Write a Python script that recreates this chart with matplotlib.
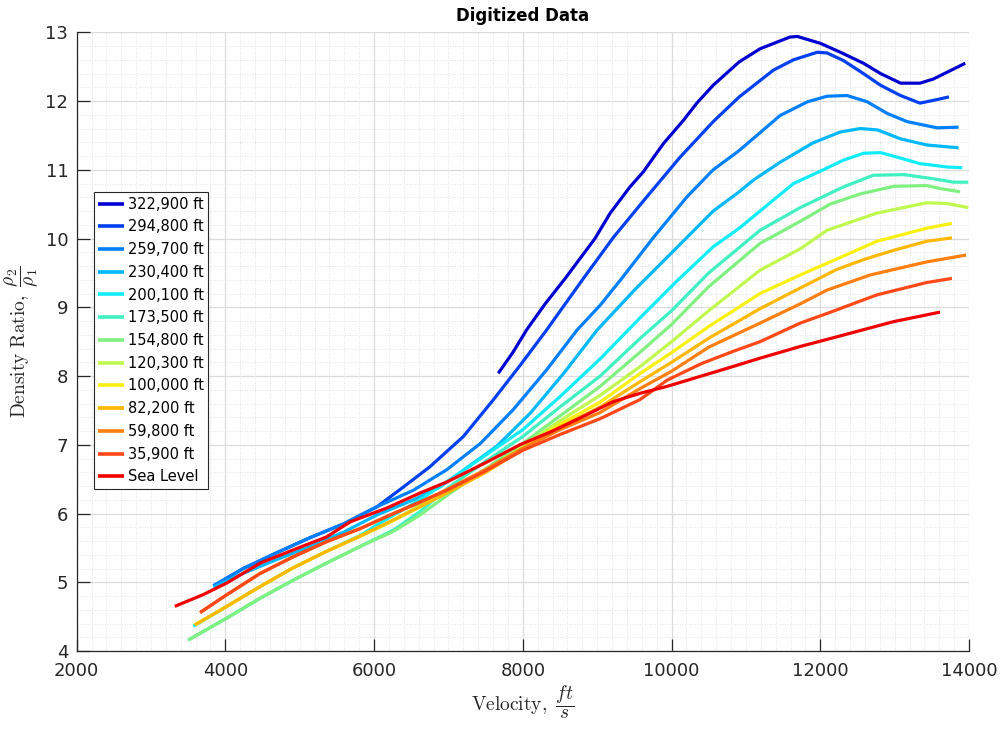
import numpy as np
import matplotlib
matplotlib.use("Agg")
import matplotlib.pyplot as plt
from matplotlib.ticker import MultipleLocator

# altitude labels, highest first
labels = ["322,900 ft", "294,800 ft", "259,700 ft", "230,400 ft", "200,100 ft",
          "173,500 ft", "154,800 ft", "120,300 ft", "100,000 ft", "82,200 ft",
          "59,800 ft", "35,900 ft", "Sea Level"]

v_322900 = [7670, 7870, 8050, 8300, 8570, 8970, 9175, 9440, 9620, 9890, 10160, 10340,
            10560, 10910, 11190, 11590, 11690, 12000, 12270, 12580, 12810, 13080,
            13340, 13520, 13950]
r_322900 = [8.04, 8.35, 8.67, 9.05, 9.42, 10.00, 10.37, 10.75, 10.97, 11.38, 11.72, 11.97,
            12.23, 12.57, 12.76, 12.93, 12.94, 12.84, 12.71, 12.55, 12.40, 12.26,
            12.26, 12.32, 12.55]

v_294800 = [3840, 4240, 4690, 5140, 5590, 6040, 6350, 6750, 7200, 7600, 7960, 8320,
            8815, 9220, 9670, 10120, 10560, 10910, 11370, 11640, 11960, 12090, 12310,
            12580, 12810, 13080, 13340, 13520, 13730]
r_294800 = [4.95, 5.20, 5.43, 5.65, 5.85, 6.10, 6.35, 6.68, 7.12, 7.65, 8.15, 8.67,
            9.42, 10.02, 10.61, 11.19, 11.70, 12.06, 12.45, 12.60, 12.71, 12.70, 12.59,
            12.40, 12.23, 12.08, 11.97, 12.01, 12.06]

v_259700 = [3840, 4240, 4690, 5140, 5590, 6040, 6530, 6980, 7430, 7870, 8320, 8730,
            9040, 9330, 9760, 10210, 10560, 10910, 11460, 11830, 12090, 12360, 12630,
            12900, 13170, 13570, 13860]
r_259700 = [4.95, 5.20, 5.43, 5.65, 5.85, 6.10, 6.34, 6.64, 7.02, 7.51, 8.09, 8.67,
            9.03, 9.42, 10.02, 10.61, 11.00, 11.28, 11.79, 11.99, 12.07, 12.08, 11.99,
            11.82, 11.70, 11.61, 11.62]

v_230400 = [3840, 4240, 4690, 5140, 5590, 6040, 6530, 6890, 7200, 7650, 8100, 8550,
            9000, 9500, 10100, 10560, 10910, 11100, 11460, 11900, 12270, 12540, 12770,
            13080, 13440, 13860]
r_230400 = [4.93, 5.13, 5.33, 5.52, 5.73, 5.98, 6.20, 6.39, 6.63, 6.98, 7.46, 8.04,
            8.67, 9.25, 9.90, 10.40, 10.68, 10.85, 11.11, 11.39, 11.55, 11.60, 11.58,
            11.45, 11.36, 11.32]

v_200100 = [3570, 4020, 4470, 4910, 5360, 5810, 6170, 6620, 7000, 7500, 8000, 8500,
            9040, 9580, 10070, 10560, 10910, 11190, 11640, 12040, 12310, 12580, 12810,
            13080, 13340, 13710, 13910]
r_200100 = [4.36, 4.65, 4.94, 5.21, 5.45, 5.68, 5.92, 6.20, 6.48, 6.85, 7.22, 7.70,
            8.25, 8.85, 9.38, 9.88, 10.15, 10.40, 10.80, 11.00, 11.14, 11.24, 11.25,
            11.17, 11.09, 11.04, 11.03]

v_173500 = [3500, 4020, 4470, 4910, 5360, 5810, 6260, 6620, 7000, 7500, 8000, 8500,
            9040, 9580, 10000, 10500, 11190, 11730, 12310, 12710, 13120, 13520, 13790,
            13990]
r_173500 = [4.16, 4.48, 4.77, 5.03, 5.28, 5.52, 5.76, 6.03, 6.38, 6.76, 7.12, 7.55,
            8.00, 8.55, 8.95, 9.50, 10.12, 10.45, 10.75, 10.92, 10.93, 10.87, 10.82,
            10.82]

v_154800 = [3500, 4020, 4470, 4910, 5360, 5810, 6260, 6620, 7000, 7500, 8000, 8500,
            9040, 9580, 10000, 10500, 11190, 11730, 12130, 12540, 12990, 13430, 13600,
            13880]
r_154800 = [4.16, 4.48, 4.77, 5.03, 5.28, 5.52, 5.74, 5.98, 6.28, 6.65, 7.02, 7.42,
            7.85, 8.35, 8.75, 9.30, 9.93, 10.25, 10.50, 10.65, 10.76, 10.77, 10.73,
            10.68]

v_120300 = [3590, 4020, 4470, 4910, 5360, 5810, 6170, 6620, 7000, 7500, 8000, 8500,
            9040, 9580, 10000, 10500, 11190, 11730, 12090, 12760, 13430, 13700, 13990]
r_120300 = [4.38, 4.65, 4.94, 5.21, 5.45, 5.67, 5.85, 6.12, 6.33, 6.62, 6.98, 7.35,
            7.72, 8.14, 8.50, 8.95, 9.54, 9.85, 10.12, 10.37, 10.52, 10.51, 10.45]

v_100000 = [3590, 4020, 4470, 4910, 5360, 5810, 6170, 6620, 7000, 7500, 8000, 8500,
            9040, 9580, 10000, 10500, 11190, 11730, 12090, 12760, 13430, 13770]
r_100000 = [4.38, 4.65, 4.94, 5.21, 5.45, 5.67, 5.85, 6.10, 6.32, 6.60, 6.95, 7.30,
            7.62, 8.04, 8.34, 8.72, 9.20, 9.47, 9.64, 9.96, 10.15, 10.22]

v_82200 = [3590, 4020, 4470, 4910, 5360, 5810, 6170, 6620, 7000, 7500, 8000, 8500,
           9040, 9580, 10000, 10500, 11190, 11730, 12220, 12600, 12990, 13430, 13770]
r_82200 = [4.38, 4.65, 4.94, 5.21, 5.45, 5.67, 5.86, 6.10, 6.31, 6.60, 6.94, 7.26,
           7.55, 7.92, 8.20, 8.55, 8.98, 9.28, 9.55, 9.70, 9.83, 9.96, 10.01]

v_59800 = [3660, 4020, 4470, 4910, 5360, 5810, 6260, 6620, 7000, 7500, 8000, 8500,
           9040, 9580, 10000, 10500, 11190, 11730, 12090, 12670, 13430, 13960]
r_59800 = [4.56, 4.82, 5.13, 5.37, 5.59, 5.78, 6.00, 6.16, 6.36, 6.64, 6.95, 7.22,
           7.47, 7.82, 8.07, 8.42, 8.77, 9.05, 9.25, 9.47, 9.66, 9.76]

v_35900 = [3660, 4020, 4470, 4910, 5360, 5810, 6260, 6620, 6980, 7500, 8000, 8500,
           9040, 9580, 9940, 10400, 10830, 11190, 11730, 12090, 12760, 13430, 13770]
r_35900 = [4.56, 4.82, 5.13, 5.37, 5.59, 5.78, 6.00, 6.17, 6.34, 6.62, 6.92, 7.15,
           7.38, 7.66, 7.94, 8.18, 8.36, 8.50, 8.77, 8.91, 9.18, 9.36, 9.42]

v_sea = [3320, 3700, 4020, 4470, 4910, 5360, 5680, 6170, 6620, 6980, 7500, 7960,
         8400, 8770, 9220, 9580, 9940, 10400, 10830, 11190, 11730, 12220, 12980, 13610]
r_sea = [4.65, 4.82, 4.99, 5.28, 5.47, 5.66, 5.88, 6.08, 6.30, 6.46, 6.74, 7.00,
         7.20, 7.39, 7.63, 7.75, 7.85, 8.00, 8.14, 8.26, 8.43, 8.57, 8.79, 8.93]

velocities = [v_322900, v_294800, v_259700, v_230400, v_200100, v_173500, v_154800,
              v_120300, v_100000, v_82200, v_59800, v_35900, v_sea]
ratios = [r_322900, r_294800, r_259700, r_230400, r_200100, r_173500, r_154800,
          r_120300, r_100000, r_82200, r_59800, r_35900, r_sea]

colors = ["#0000d0", "#0040f0", "#0080ff", "#00b8ff", "#10ecf8", "#40f0c0", "#80f080",
          "#c0f850", "#f8f010", "#ffb800", "#ff8010", "#ff4818", "#f00000"]


def main():
    plt.rcParams["mathtext.fontset"] = "cm"
    fig = plt.figure(figsize=(10.03, 7.34), dpi=100)
    ax = fig.add_axes([0.0764, 0.113, 0.8897, 0.843])

    for v, r, c, lab in zip(velocities, ratios, colors, labels):
        ax.plot(v, r, color=c, lw=2.3, label=lab, solid_capstyle="butt")

    ax.set_xlim(2000, 14000)
    ax.set_ylim(4, 13)
    ax.xaxis.set_major_locator(MultipleLocator(2000))
    ax.xaxis.set_minor_locator(MultipleLocator(200))
    ax.yaxis.set_major_locator(MultipleLocator(1))
    ax.yaxis.set_minor_locator(MultipleLocator(0.2))
    ax.grid(True, which="major", color="#dcdcdc", lw=0.9)
    ax.grid(True, which="minor", color="#dadada", lw=0.6, ls=(0, (1, 2)))
    ax.set_axisbelow(True)

    for side in ["top", "right"]:
        ax.spines[side].set_visible(False)
    for side in ["left", "bottom"]:
        ax.spines[side].set_color("#262626")
        ax.spines[side].set_linewidth(0.9)
    ax.tick_params(which="major", direction="in", length=9, width=0.9,
                   colors="#262626", labelsize=13)
    ax.tick_params(axis="x", which="major", pad=8)
    ax.tick_params(axis="y", which="major", pad=6)
    ax.tick_params(which="minor", length=0)

    ax.set_title("Digitized Data", fontsize=12, fontweight="bold", pad=8)
    ax.set_xlabel(r"$\mathrm{Velocity,}\ \dfrac{ft}{s}$", fontsize=14, labelpad=3,
                  color="#262626")
    ax.set_ylabel(r"$\mathrm{Density\ Ratio,}\ \dfrac{\rho_2}{\rho_1}$", fontsize=14,
                  labelpad=4, color="#262626")

    leg = ax.legend(loc="upper left", bbox_to_anchor=(0.0195, 0.7415), borderaxespad=0,
                    fontsize=10.5, labelspacing=0.53, handlelength=1.75,
                    handletextpad=0.25, borderpad=0.3, fancybox=False,
                    edgecolor="#262626", framealpha=1)
    leg.get_frame().set_linewidth(0.8)
    for line in leg.get_lines():
        line.set_linewidth(2.6)

    fig.savefig("out.png", dpi=100)


if __name__ == "__main__":
    main()
